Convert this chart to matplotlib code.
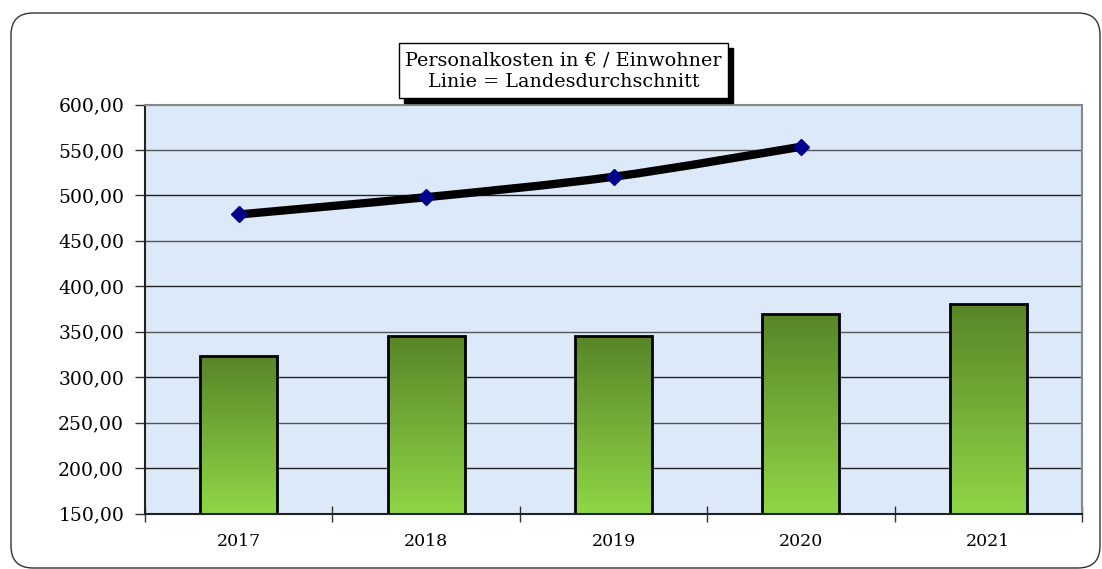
import numpy as np
import matplotlib.pyplot as plt
from matplotlib.patches import Rectangle, FancyBboxPatch, PathPatch
from matplotlib.path import Path
from matplotlib.colors import LinearSegmentedColormap

# data
years = ['2017', '2018', '2019', '2020', '2021']
kosten = [323.5, 345.5, 345.5, 369.5, 380.0]        # bars: Personalkosten je Einwohner
land_years = [0, 1, 2, 3]                             # line only up to 2020
landesschnitt = [479.0, 498.0, 520.5, 553.5]
y_ticks = [150, 200, 250, 300, 350, 400, 450, 500, 550, 600]

W, H = 1102, 569
plt.rcParams['font.family'] = ['DejaVu Serif']

fig = plt.figure(figsize=(W / 100, H / 100), dpi=100)
fig.patch.set_facecolor('white')

def fx(px):
    return px / W

def fy(py):
    return 1 - py / H

# rounded outer frame (cut at right/bottom like the screenshot)
frame = FancyBboxPatch((fx(11), fy(568)), fx(1100) - fx(11), fy(13) - fy(568),
                       boxstyle='round,pad=0,rounding_size=0.02',
                       transform=fig.transFigure, facecolor='none',
                       edgecolor='#333333', linewidth=1.0, mutation_aspect=W / H)
fig.patches.append(frame)

ax = fig.add_axes([fx(145), fy(513.5), fx(1082) - fx(145), fy(104.5) - fy(513.5)])
ax.set_facecolor('#dce9f8')
ax.set_xlim(-0.5, len(years) - 0.5)
ax.set_ylim(150, 600)

# gridlines
for i, yv in enumerate(y_ticks[1:-1]):
    ax.axhline(yv, color='#222222' if i % 2 == 0 else '#555555', lw=1.0, zorder=1)
ax.axhline(600, color='#888888', lw=1.5, zorder=1)

# bars with vertical green gradient
grad = np.linspace(0, 1, 256).reshape(-1, 1)
green = LinearSegmentedColormap.from_list('g', ['#8fd646', '#588528'])
bars = ax.bar(range(len(years)), kosten, width=0.41, bottom=0,
              facecolor='none', edgecolor='black', linewidth=2.0, zorder=3)
for b in bars:
    x0 = b.get_x()
    w = b.get_width()
    top = b.get_height()
    im = ax.imshow(grad, cmap=green, origin='lower', aspect='auto',
                   extent=[x0, x0 + w, 150, top], zorder=2)
    im.set_clip_path(b)

# smoothed line (Catmull-Rom as cubic Bezier)
xs = np.array(land_years, dtype=float)
ys = np.array(landesschnitt, dtype=float)
verts = [(xs[0], ys[0])]
codes = [Path.MOVETO]
n = len(xs)
for i in range(n - 1):
    p0 = (xs[max(i - 1, 0)], ys[max(i - 1, 0)])
    p1 = (xs[i], ys[i])
    p2 = (xs[i + 1], ys[i + 1])
    p3 = (xs[min(i + 2, n - 1)], ys[min(i + 2, n - 1)])
    c1 = (p1[0] + (p2[0] - p0[0]) / 6, p1[1] + (p2[1] - p0[1]) / 6)
    c2 = (p2[0] - (p3[0] - p1[0]) / 6, p2[1] - (p3[1] - p1[1]) / 6)
    verts += [c1, c2, p2]
    codes += [Path.CURVE4] * 3
ax.add_patch(PathPatch(Path(verts, codes), facecolor='none', edgecolor='black',
                       lw=6, capstyle='butt', zorder=4))
ax.plot(land_years, landesschnitt, linestyle='none', marker='D', markersize=8,
        color='#00008b', zorder=5)

# axes styling
ax.set_yticks(y_ticks)
ax.set_yticklabels([f'{v:.2f}'.replace('.', ',') for v in y_ticks], fontsize=13.5)
ax.set_xticks(np.arange(len(years)))
ax.set_xticklabels(years, fontsize=12.5)
ax.set_xticks(np.arange(-0.5, len(years)), minor=True)
ax.tick_params(axis='x', which='major', length=0, pad=14)
ax.tick_params(axis='x', which='minor', direction='inout', length=12, width=1, color='#333333')
ax.tick_params(axis='y', direction='out', length=7, width=1, pad=8, color='#333333')
ax.spines['left'].set_color('#222222')
ax.spines['bottom'].set_color('#222222')
ax.spines['top'].set_color('#888888')
ax.spines['right'].set_color('#888888')
for s in ax.spines.values():
    s.set_linewidth(1.5)
    s.set_zorder(6)

# title box with shadow
fig.patches.append(Rectangle((fx(404), fy(103)), fx(733) - fx(404), fy(48) - fy(103),
                             transform=fig.transFigure, facecolor='black', edgecolor='black', zorder=7))
fig.patches.append(Rectangle((fx(399), fy(98)), fx(728) - fx(399), fy(43) - fy(98),
                             transform=fig.transFigure, facecolor='white', edgecolor='black',
                             linewidth=1.0, zorder=8))
fig.text(fx(563.5), fy(71), 'Personalkosten in € / Einwohner\nLinie = Landesdurchschnitt',
         ha='center', va='center', fontsize=13.8, linespacing=1.25, zorder=9)

fig.savefig('out.png', dpi=100)
